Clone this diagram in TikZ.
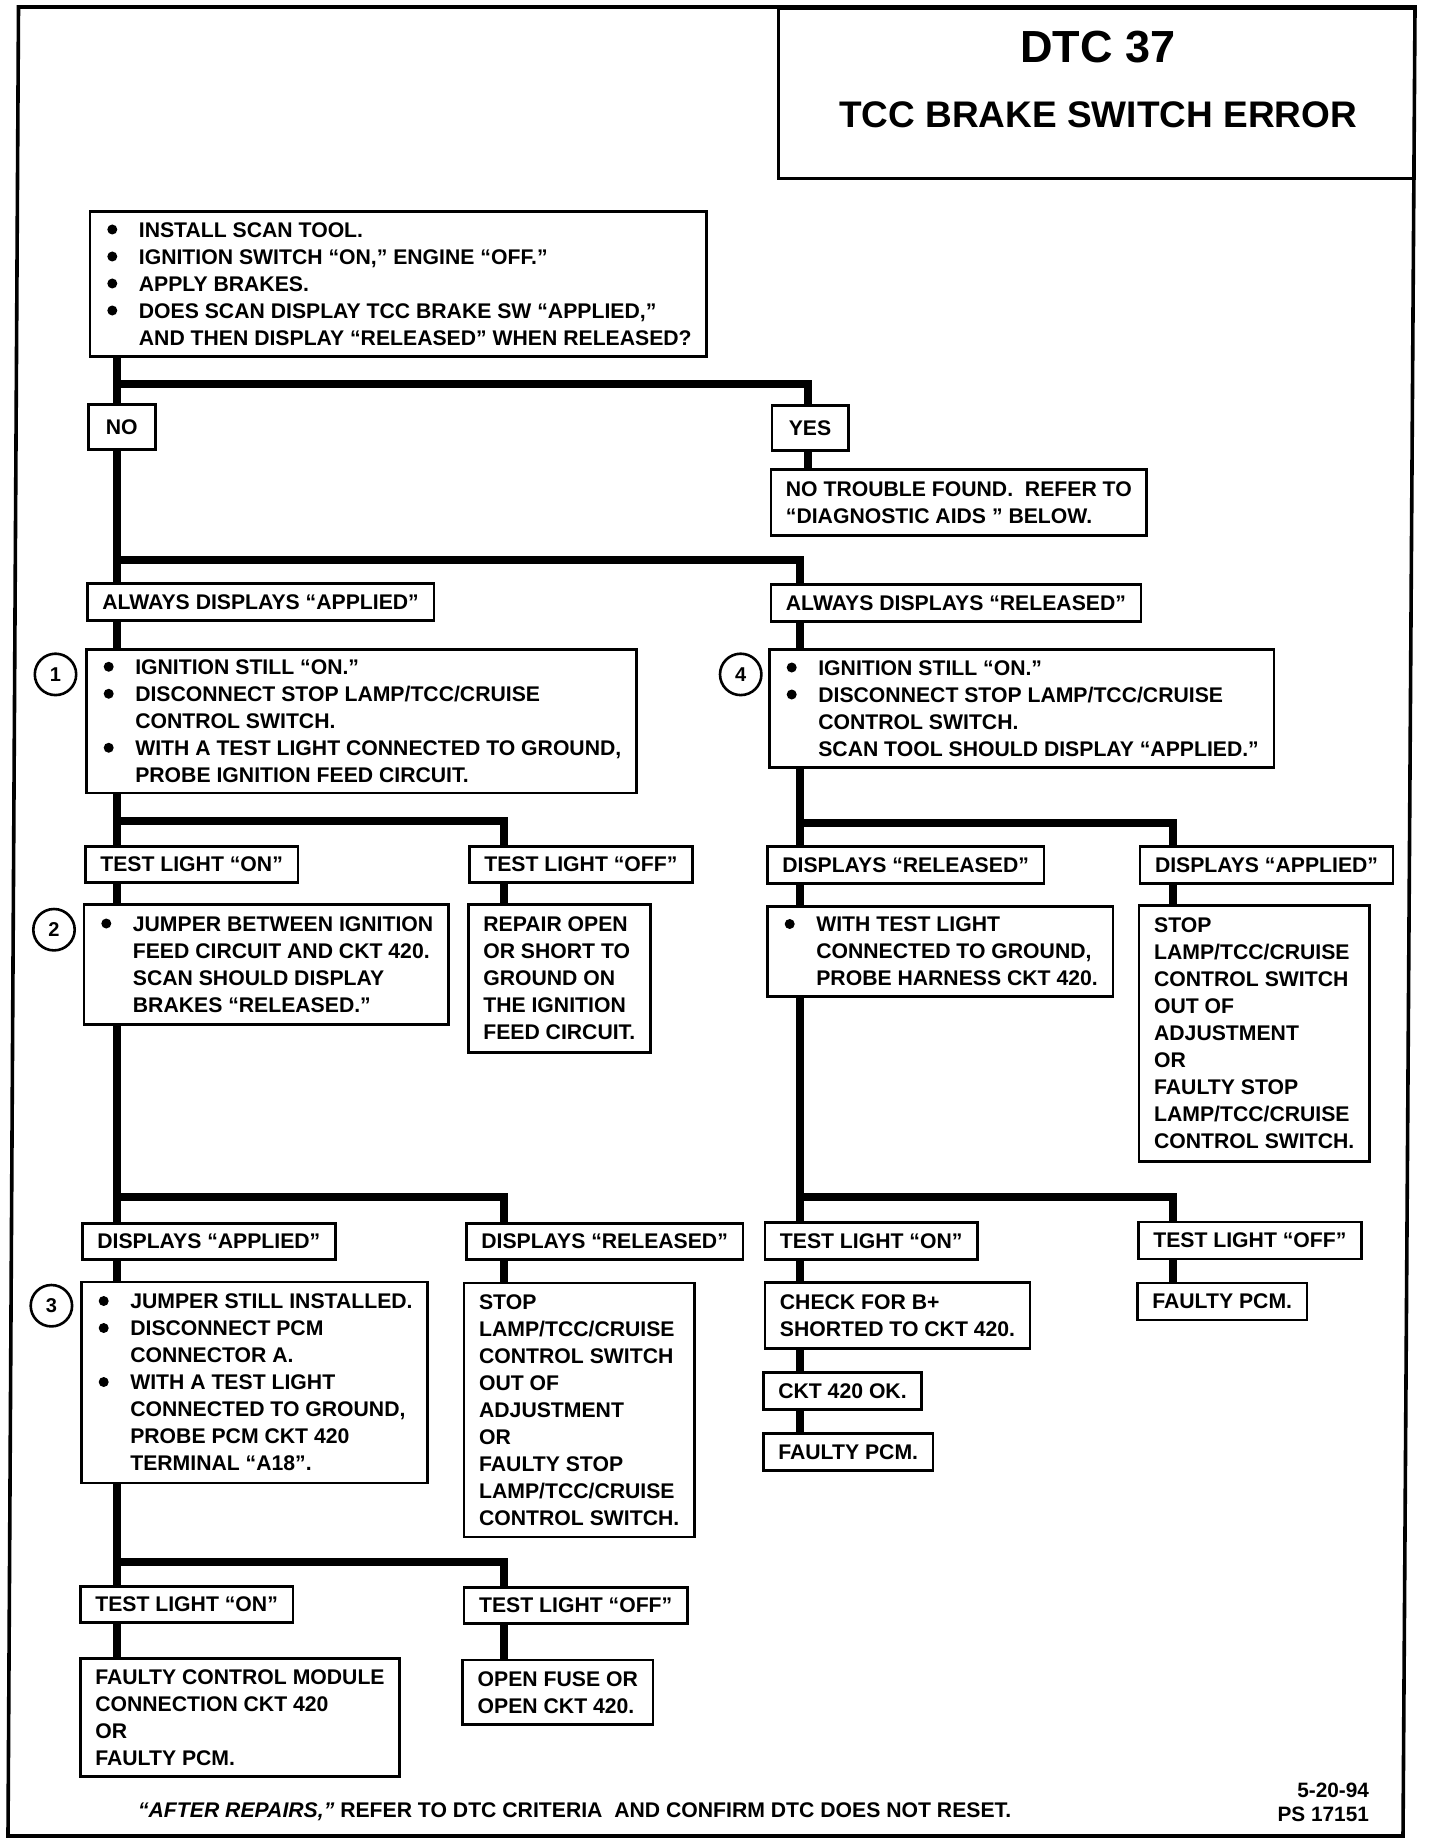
\documentclass[tikz,border=0pt]{standalone}
\usepackage{fontspec}
\setmainfont{Liberation Sans}
\newcommand\bul{\makebox[17pt][l]{\hspace{1.2pt}\tikz[x=1pt,y=1pt,baseline=-3.8pt]\fill (0,0) circle (2.5pt);}}
\newcommand\ind{\hspace*{17pt}}
\begin{document}
\begin{tikzpicture}[x=0.5pt,y=-0.5pt,
    txt/.style={font=\bfseries\fontsize{10.6}{13.5}\selectfont},
    box/.style={txt,draw,line width=1.3pt,anchor=north west,align=left,inner xsep=7.5pt,inner ysep=3pt},
    lbl/.style={box,minimum height=18.5pt},
    conn/.style={line width=3.9pt,line join=miter},
    num/.style={draw,circle,line width=1.3pt,minimum size=20.7pt,inner sep=0pt,font=\bfseries\fontsize{10}{12}\selectfont}]
    \useasboundingbox (0,0) rectangle (1440,1846);
    \draw[line width=1.8pt] (18.5,7) -- (1415,7) -- (1403,1836) -- (8,1836) -- cycle;
    % title
    \node[draw,line width=1.5pt,anchor=north west,minimum width=318pt,minimum height=85pt,inner sep=0pt] (title) at (777.4,7) {};
    \node[font=\bfseries\fontsize{22.5}{26}\selectfont] (dtc) at (1098,47) {DTC 37};
    \node[font=\bfseries\fontsize{18.5}{22}\selectfont] (err) at (1098,115) {TCC BRAKE SWITCH ERROR};
    % trunks and junctions
    \coordinate (tL) at (117,0);
    \coordinate (bL) at (504,0);
    \coordinate (tY) at (808,0);
    \coordinate (tR) at (800,0);
    \coordinate (bR) at (1173,0);
    \coordinate (j1) at (0,384);
    \coordinate (j2) at (0,560);
    \coordinate (j3) at (0,821);
    \coordinate (j4) at (0,1197);
    \coordinate (j5) at (0,1562);
    \coordinate (j6) at (0,823);
    \coordinate (j7) at (0,1197);
    % boxes
    \node[box,minimum height=72.5pt] (qA) at (88.6,210) {\bul INSTALL SCAN TOOL.\\
        \bul IGNITION SWITCH “ON,” ENGINE “OFF.”\\
        \bul APPLY BRAKES.\\
        \bul DOES SCAN DISPLAY TCC BRAKE SW “APPLIED,”\\
        \ind AND THEN DISPLAY “RELEASED” WHEN RELEASED?};
    \node[box,minimum height=22.5pt,minimum width=33.5pt,align=center] (no) at (87,403) {NO};
    \node[box,minimum height=22.5pt,minimum width=38.2pt,align=center] (yes) at (770.5,404) {YES};
    \node[box,minimum height=33pt] (nt) at (769.6,468) {NO TROUBLE FOUND.\ \ REFER TO\\“DIAGNOSTIC AIDS ” BELOW.};
    \node[lbl] (aa) at (86,582) {ALWAYS DISPLAYS “APPLIED”};
    \node[lbl] (ar) at (769.6,583) {ALWAYS DISPLAYS “RELEASED”};
    \node[box,minimum height=71.75pt] (b1) at (85,648) {\bul IGNITION STILL “ON.”\\
        \bul DISCONNECT STOP LAMP/TCC/CRUISE\\
        \ind CONTROL SWITCH.\\
        \bul WITH A TEST LIGHT CONNECTED TO GROUND,\\
        \ind PROBE IGNITION FEED CIRCUIT.};
    \node[box,minimum height=59pt] (b4) at (768,648) {\bul IGNITION STILL “ON.”\\
        \bul DISCONNECT STOP LAMP/TCC/CRUISE\\
        \ind CONTROL SWITCH.\\
        \ind SCAN TOOL SHOULD DISPLAY “APPLIED.”};
    \node[num] (n1) at (55.5,674.4) {1};
    \node[num] (n4) at (740.7,674.4) {4};
    \node[lbl,minimum height=18pt] (tlon1) at (84,845) {TEST LIGHT “ON”};
    \node[lbl,minimum height=18pt] (tloff1) at (468,845) {TEST LIGHT “OFF”};
    \node[box,minimum height=60pt] (b2) at (82.6,903) {\bul JUMPER BETWEEN IGNITION\\
        \ind FEED CIRCUIT AND CKT 420.\\
        \ind SCAN SHOULD DISPLAY\\
        \ind BRAKES “RELEASED.”};
    \node[num] (n2) at (54,929.7) {2};
    \node[box,minimum height=74pt] (rep) at (467,903) {REPAIR OPEN\\OR SHORT TO\\GROUND ON\\THE IGNITION\\FEED CIRCUIT.};
    \node[lbl] (dr) at (766,845) {DISPLAYS “RELEASED”};
    \node[lbl] (da) at (1138.7,845) {DISPLAYS “APPLIED”};
    \node[box,minimum height=45pt] (wtl) at (766,905) {\bul WITH TEST LIGHT\\
        \ind CONNECTED TO GROUND,\\
        \ind PROBE HARNESS CKT 420.};
    \node[box,minimum height=128pt] (stopR) at (1137.8,904) {STOP\\LAMP/TCC/CRUISE\\CONTROL SWITCH\\OUT OF\\ADJUSTMENT\\OR\\FAULTY STOP\\LAMP/TCC/CRUISE\\CONTROL SWITCH.};
    \node[lbl,minimum height=18pt] (daL) at (81,1222) {DISPLAYS “APPLIED”};
    \node[lbl,minimum height=18pt] (drL) at (465,1222) {DISPLAYS “RELEASED”};
    \node[box,minimum height=100.5pt] (b3) at (80,1280.5) {\bul JUMPER STILL INSTALLED.\\
        \bul DISCONNECT PCM\\
        \ind CONNECTOR A.\\
        \bul WITH A TEST LIGHT\\
        \ind CONNECTED TO GROUND,\\
        \ind PROBE PCM CKT 420\\
        \ind TERMINAL “A18”.};
    \node[num] (n3) at (51.4,1305.7) {3};
    \node[box,minimum height=127pt] (stopL) at (462.8,1281.6) {STOP\\LAMP/TCC/CRUISE\\CONTROL SWITCH\\OUT OF\\ADJUSTMENT\\OR\\FAULTY STOP\\LAMP/TCC/CRUISE\\CONTROL SWITCH.};
    \node[lbl] (tlonR) at (763.6,1221) {TEST LIGHT “ON”};
    \node[lbl] (tloffR) at (1137,1220.6) {TEST LIGHT “OFF”};
    \node[box,minimum height=33pt] (chk) at (763.6,1281) {CHECK FOR B+\\SHORTED TO CKT 420.};
    \node[lbl] (ok) at (762,1371) {CKT 420 OK.};
    \node[lbl] (fpcm) at (762,1432) {FAULTY PCM.};
    \node[lbl] (fpcmR) at (1136,1281.6) {FAULTY PCM.};
    \node[lbl,minimum height=18pt] (tlon3) at (79,1585) {TEST LIGHT “ON”};
    \node[lbl,minimum height=18pt] (tloff3) at (462.8,1586) {TEST LIGHT “OFF”};
    \node[box,minimum height=58.8pt] (fcm) at (79,1657.4) {FAULTY CONTROL MODULE\\CONNECTION CKT 420\\OR\\FAULTY PCM.};
    \node[box,minimum height=32.4pt] (fuse) at (461.4,1658.6) {OPEN FUSE OR\\OPEN CKT 420.};
    % connectors
    \draw[conn] (tL |- qA.south) -- (tL |- no.north);
    \draw[conn] (tL |- j1) -| (tY |- yes.north);
    \draw[conn] (tY |- yes.south) -- (tY |- nt.north);
    \draw[conn] (tL |- no.south) -- (tL |- aa.north);
    \draw[conn] (tL |- j2) -| (tR |- ar.north);
    \draw[conn] (tL |- aa.south) -- (tL |- b1.north);
    \draw[conn] (tR |- ar.south) -- (tR |- b4.north);
    \draw[conn] (tL |- b1.south) -- (tL |- tlon1.north);
    \draw[conn] (tL |- j3) -| (bL |- tloff1.north);
    \draw[conn] (tL |- tlon1.south) -- (tL |- b2.north);
    \draw[conn] (bL |- tloff1.south) -- (bL |- rep.north);
    \draw[conn] (tL |- b2.south) -- (tL |- daL.north);
    \draw[conn] (tL |- j4) -| (bL |- drL.north);
    \draw[conn] (tL |- daL.south) -- (tL |- b3.north);
    \draw[conn] (bL |- drL.south) -- (bL |- stopL.north);
    \draw[conn] (tL |- b3.south) -- (tL |- tlon3.north);
    \draw[conn] (tL |- j5) -| (bL |- tloff3.north);
    \draw[conn] (tL |- tlon3.south) -- (tL |- fcm.north);
    \draw[conn] (bL |- tloff3.south) -- (bL |- fuse.north);
    \draw[conn] (tR |- b4.south) -- (tR |- dr.north);
    \draw[conn] (tR |- j6) -| (bR |- da.north);
    \draw[conn] (tR |- dr.south) -- (tR |- wtl.north);
    \draw[conn] (bR |- da.south) -- (bR |- stopR.north);
    \draw[conn] (tR |- wtl.south) -- (tR |- tlonR.north);
    \draw[conn] (tR |- j7) -| (bR |- tloffR.north);
    \draw[conn] (tR |- tlonR.south) -- (tR |- chk.north);
    \draw[conn] (tR |- chk.south) -- (tR |- ok.north);
    \draw[conn] (tR |- ok.south) -- (tR |- fpcm.north);
    \draw[conn] (bR |- tloffR.south) -- (bR |- fpcmR.north);
    % footer
    \node[txt,anchor=west] (after) at (131,1812) {\textit{“AFTER REPAIRS,”} REFER TO DTC CRITERIA~ AND CONFIRM DTC DOES NOT RESET.};
    \node[font=\bfseries\fontsize{10.4}{12}\selectfont,align=right,anchor=east] (date) at (1376,1802) {5-20-94\\PS 17151};
\end{tikzpicture}
\end{document}
